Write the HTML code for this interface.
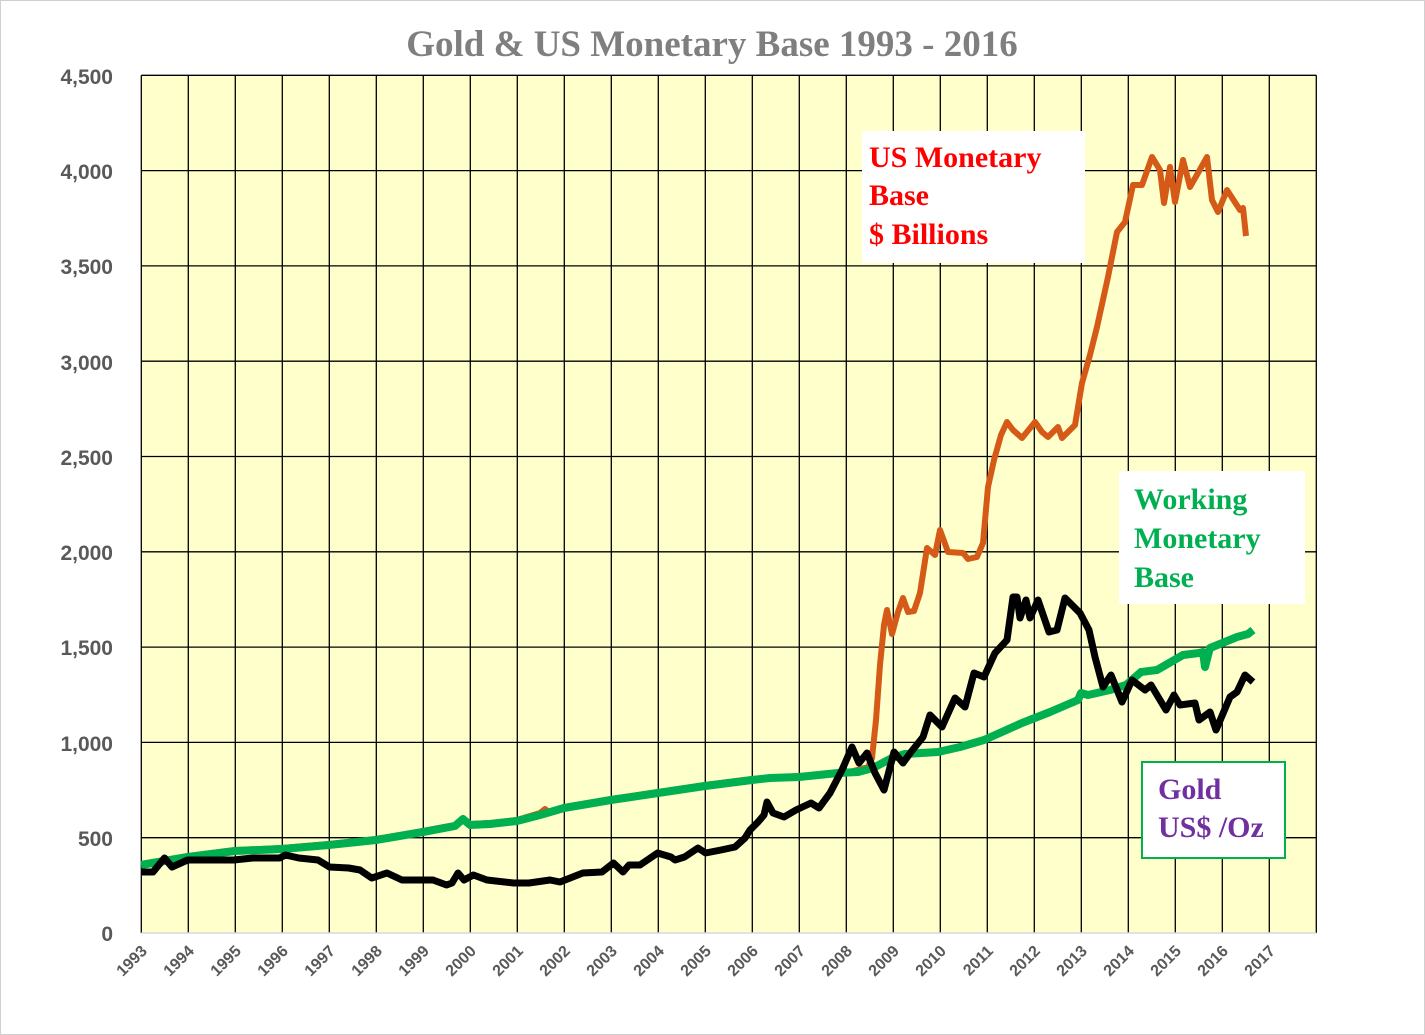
<!DOCTYPE html>
<html><head><meta charset="utf-8"><style>
html,body{margin:0;padding:0;background:#fff}
svg{display:block}
</style></head><body>
<svg width="1425" height="1035" viewBox="0 0 1425 1035" xmlns="http://www.w3.org/2000/svg">
<rect x="0.5" y="0.5" width="1424" height="1034" fill="#fff" stroke="#d0d0d0"/>
<text x="712" y="56" text-anchor="middle" font-family="Liberation Serif, serif" font-weight="bold" font-size="37" fill="#7f7f7f">Gold &amp; US Monetary Base 1993 - 2016</text>
<rect x="141.3" y="75.3" width="1175" height="857.7" fill="#ffffcc"/>
<g stroke="#000" stroke-width="1.3">
<path d="M141.3 75.3H1316.3M141.3 170.6H1316.3M141.3 265.9H1316.3M141.3 361.2H1316.3M141.3 456.5H1316.3M141.3 551.8H1316.3M141.3 647.1H1316.3M141.3 742.4H1316.3M141.3 837.7H1316.3"/>
<path d="M141.3 75.3V933M188.3 75.3V933M235.3 75.3V933M282.3 75.3V933M329.3 75.3V933M376.3 75.3V933M423.3 75.3V933M470.3 75.3V933M517.3 75.3V933M564.3 75.3V933M611.3 75.3V933M658.3 75.3V933M705.3 75.3V933M752.3 75.3V933M799.3 75.3V933M846.3 75.3V933M893.3 75.3V933M940.3 75.3V933M987.3 75.3V933M1034.3 75.3V933M1081.3 75.3V933M1128.3 75.3V933M1175.3 75.3V933M1222.3 75.3V933M1269.3 75.3V933M1316.3 75.3V933"/>
</g>
<line x1="141.3" y1="933" x2="1316.3" y2="933" stroke="#d9d9d9" stroke-width="1.5"/>
<g font-family="Liberation Sans, sans-serif" font-weight="bold" font-size="21" fill="#595959" text-anchor="end">
<text x="113" y="84">4,500</text><text x="113" y="179">4,000</text><text x="113" y="274">3,500</text>
<text x="113" y="370">3,000</text><text x="113" y="465">2,500</text><text x="113" y="560">2,000</text>
<text x="113" y="655">1,500</text><text x="113" y="751">1,000</text><text x="113" y="846">500</text>
<text x="113" y="941">0</text>
</g>
<g font-family="Liberation Sans, sans-serif" font-weight="bold" font-size="16" fill="#595959" text-anchor="end">
<text transform="translate(148,952) rotate(-45)">1993</text>
<text transform="translate(195,952) rotate(-45)">1994</text>
<text transform="translate(242,952) rotate(-45)">1995</text>
<text transform="translate(289,952) rotate(-45)">1996</text>
<text transform="translate(336,952) rotate(-45)">1997</text>
<text transform="translate(383,952) rotate(-45)">1998</text>
<text transform="translate(430,952) rotate(-45)">1999</text>
<text transform="translate(477,952) rotate(-45)">2000</text>
<text transform="translate(524,952) rotate(-45)">2001</text>
<text transform="translate(571,952) rotate(-45)">2002</text>
<text transform="translate(618,952) rotate(-45)">2003</text>
<text transform="translate(665,952) rotate(-45)">2004</text>
<text transform="translate(712,952) rotate(-45)">2005</text>
<text transform="translate(759,952) rotate(-45)">2006</text>
<text transform="translate(806,952) rotate(-45)">2007</text>
<text transform="translate(853,952) rotate(-45)">2008</text>
<text transform="translate(900,952) rotate(-45)">2009</text>
<text transform="translate(947,952) rotate(-45)">2010</text>
<text transform="translate(994,952) rotate(-45)">2011</text>
<text transform="translate(1041,952) rotate(-45)">2012</text>
<text transform="translate(1088,952) rotate(-45)">2013</text>
<text transform="translate(1135,952) rotate(-45)">2014</text>
<text transform="translate(1182,952) rotate(-45)">2015</text>
<text transform="translate(1229,952) rotate(-45)">2016</text>
<text transform="translate(1276,952) rotate(-45)">2017</text>
</g>
<!-- orange -->
<polyline fill="none" stroke="#d55a17" stroke-width="6" stroke-linejoin="round" points="141,864 188,856 235,850 282,848 329,844 376,839 423,831 455,825 463,818 470,824 490,823 517,820 540,813 545,809 550,813 564,807 611,799 658,792 705,785 752,779 799,776 846,773 868,767 872,758 876,720 880,665 884,625 887,610 892,634 898,612 903,598 908,612 914,611 920,593 927,548 935,555 940,530 948,552 963,553 968,559 977,557 983,543 988,487 994,460 1001,435 1007,422 1013,430 1022,438 1035,422 1042,432 1048,437 1058,427 1062,438 1075,425 1082,383 1090,355 1097,327 1108,277 1117,232 1125,222 1133,185 1142,185 1152,157 1160,170 1164,203 1170,167 1175,202 1183,160 1190,187 1198,173 1207,157 1212,200 1218,212 1227,190 1240,210 1243,208 1246,236"/>
<!-- green -->
<polyline fill="none" stroke="#00b050" stroke-width="8" stroke-linejoin="round" points="141,865 188,857 235,851 282,849 329,845 376,840 423,832 455,826 463,819 470,825 490,824 517,821 540,815 564,808 611,800 658,793 705,786 752,780 770,778 799,777 838,773 858,772 873,768 892,758 905,754 938,752 960,747 984,740 1022,723 1050,712 1078,700 1081,693 1088,695 1110,690 1126,685 1141,672 1157,670 1183,655 1199,653 1203,652 1205,667 1208,655 1210,648 1237,637 1248,634 1253,630"/>
<!-- gold -->
<polyline fill="none" stroke="#000" stroke-width="7" stroke-linejoin="round" points="141.5,872 153,872 164.5,858 172,867 187.6,860 233.6,860 252.8,858 279.7,858 285.4,855 298.8,858 318,860 329.5,867 348.7,868 360,870 371.7,878 387,873 402,880 433,880 446.6,885 452,883 458,873 464,880 473.4,875 487,880 513.7,883 529,883 550,880 560,882 582.8,873 602,872 613.5,863 623,872 629,865 640,865 657.6,853 671,857 675,860 684.5,857 698,848 705.6,853 721,850 735,847 745,838 750,830 758,822 764,815 767,802 773,813 784,817 796,810 811,803 819,808 830,793 842,770 852,747 859,763 867,753 875,773 884,790 894,752 903,763 911,752 923,737 930,715 942,727 955,698 965,707 974,673 984,677 995,653 1007,640 1013,597 1017,597 1020,618 1026,600 1030,618 1038,600 1049,632 1057,630 1065,598 1080,613 1089,630 1095,657 1103,687 1111,675 1122,702 1132,680 1145,690 1151,685 1166,710 1174,695 1180,705 1195,703 1199,720 1210,712 1216,730 1230,697 1237,692 1245,675 1253,682"/>
<!-- boxes -->
<rect x="862" y="131" width="223" height="132" fill="#fff"/>
<g font-family="Liberation Serif, serif" font-weight="bold" font-size="30" fill="#ff0000">
<text x="869" y="167">US Monetary</text><text x="869" y="205">Base</text><text x="869" y="244">$ Billions</text>
</g>
<rect x="1119" y="471" width="186" height="133" fill="#fff"/>
<g font-family="Liberation Serif, serif" font-weight="bold" font-size="30" fill="#00b050">
<text x="1134" y="509">Working</text><text x="1134" y="548">Monetary</text><text x="1134" y="587">Base</text>
</g>
<rect x="1142" y="762" width="143" height="96" fill="#fff" stroke="#00b050" stroke-width="2"/>
<g font-family="Liberation Serif, serif" font-weight="bold" font-size="30" fill="#7030a0">
<text x="1158" y="799">Gold</text><text x="1158" y="837">US$ /Oz</text>
</g>
</svg>
</body></html>
